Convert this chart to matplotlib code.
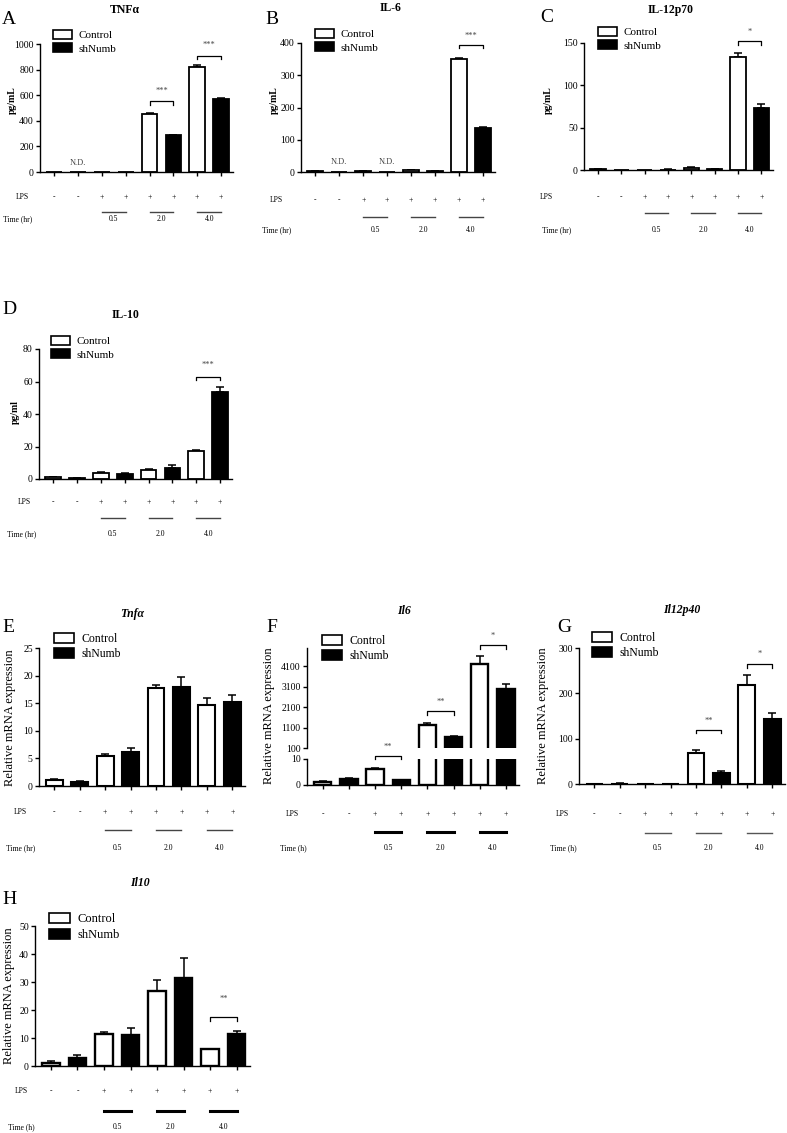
#!/usr/bin/env python3
"""
Cytokine protein (ELISA) and mRNA panels, Control vs shNumb,
drawn as GraphPad-style bar charts with LPS / time rows underneath
"""
import matplotlib.pyplot as plt
from matplotlib import transforms
from matplotlib.patches import Rectangle

# Data
lps = ["-", "-", "+", "+", "+", "+", "+", "+"]
time_points = ["0.5", "2.0", "4.0"]
groups = ["Control", "shNumb"]

tnf_protein = [0, 0, 0, 0, 453, 286, 818, 570]
tnf_protein_err = [0, 0, 0, 0, 5, 4, 20, 8]
il6_protein = [2, 0, 2, 0, 5, 2, 351, 137]
il6_protein_err = [0.5, 0, 0.5, 0, 1, 0.5, 3, 4]
il12_protein = [1, 0, 0, 0.5, 2.5, 1, 133, 73]
il12_protein_err = [0.3, 0, 0, 0.3, 0.8, 0.3, 5, 5]
il10_protein = [1.0, 0.4, 3.7, 2.9, 5.4, 6.6, 17.3, 53.6]
il10_protein_err = [0.2, 0.1, 0.6, 0.6, 0.6, 1.9, 0.4, 3.3]

tnf_mrna = [1.05, 0.75, 5.5, 6.2, 17.7, 18.0, 14.7, 15.3]
tnf_mrna_err = [0.25, 0.15, 0.3, 0.6, 0.6, 1.8, 1.2, 1.2]
il6_mrna = [1.3, 2.5, 6.0, 1.9, 1210, 620, 4230, 3006]
il6_mrna_err = [0.2, 0.3, 0.4, 0.2, 115, 50, 390, 230]
il12_mrna = [0, 0.5, 0, 0, 69, 25, 219, 144]
il12_mrna_err = [0, 1.5, 0, 0, 7, 3.5, 21, 13]
il10_mrna = [1.1, 3.0, 11.6, 11.0, 26.7, 31.6, 6.2, 11.6]
il10_mrna_err = [0.6, 1.0, 0.6, 2.7, 4.0, 6.8, 0, 0.8]

# Layout (pixels)
W, H = 787, 1133
FONT = ["Liberation Serif", "DejaVu Serif"]
BAR_WIDTH = 0.66
BAR_COLORS = ["white", "black"] * 4
XLIM = (-0.6, 7.5)

plt.rcParams["font.family"] = FONT
plt.rcParams["axes.linewidth"] = 1.0
plt.rcParams["xtick.major.width"] = 1.0
plt.rcParams["ytick.major.width"] = 1.0

fig = plt.figure(figsize=(W / 100, H / 100), dpi=100)
fig.patch.set_facecolor("white")


def fx(px):
    return px / W


def fy(py):
    return 1 - py / H


def add_ax(left, top, right, bottom):
    return fig.add_axes([fx(left), fy(bottom), (right - left) / W, (bottom - top) / H])


def style_ax(ax, ylim, yticks, show_x=True):
    ax.set_xlim(*XLIM)
    ax.set_ylim(*ylim)
    ax.set_yticks(yticks)
    ax.tick_params(axis="y", labelsize=7, length=3, pad=1.5, direction="out")
    ax.spines["top"].set_visible(False)
    ax.spines["right"].set_visible(False)
    if show_x:
        ax.set_xticks(range(8))
        ax.set_xticklabels([])
        ax.tick_params(axis="x", length=3, direction="out")
    else:
        ax.spines["bottom"].set_visible(False)
        ax.set_xticks([])


def draw_bars(ax, vals, errs, lw=1.3):
    x = list(range(len(vals)))
    ax.bar(x, vals, width=BAR_WIDTH, color=BAR_COLORS, edgecolor="black",
           linewidth=lw, zorder=2)
    for xi, v, e in zip(x, vals, errs):
        if e > 0:
            ax.errorbar(xi, v, yerr=[[0], [e]], fmt="none", ecolor="black",
                        elinewidth=1.1, capsize=3, capthick=1.1, zorder=1)


def bracket(ax, i, y, tick, label, text_y):
    ax.plot([i, i, i + 1, i + 1], [y - tick, y, y, y - tick], color="black",
            lw=0.9, clip_on=False)
    ax.text(i + 0.5, text_y, label, ha="center", va="center", fontsize=6,
            color="#444444", clip_on=False)


def legend(ax, x, y, size):
    handles = [Rectangle((0, 0), 1, 1, fc="white", ec="black", lw=1.2),
               Rectangle((0, 0), 1, 1, fc="black", ec="black", lw=1.2)]
    ax.legend(handles, groups, loc="upper left", bbox_to_anchor=(fx(x), fy(y)),
              bbox_transform=fig.transFigure, frameon=False, fontsize=size,
              handlelength=1.7, handleheight=0.9, labelspacing=0.25,
              borderaxespad=0, borderpad=0, handletextpad=0.6)


def lps_rows(ax, lps_y, line_y, time_y, lps_x, time_x, time_text,
             line_lw=1.0, line_color="#444444"):
    tr = transforms.blended_transform_factory(ax.transData, fig.transFigure)
    fig.text(fx(lps_x), fy(lps_y), "LPS", ha="center", va="center", fontsize=5.5)
    for i, s in enumerate(lps):
        ax.text(i, fy(lps_y), s, transform=tr, ha="center", va="center",
                fontsize=5.5, clip_on=False)
    for k, t in enumerate(time_points):
        i = 2 + 2 * k
        ax.plot([i, i + 1], [fy(line_y)] * 2, transform=tr, color=line_color,
                lw=line_lw, clip_on=False)
        ax.text(i + 0.5, fy(time_y), t, transform=tr, ha="center", va="center",
                fontsize=5.5, clip_on=False)
    fig.text(fx(time_x), fy(time_y), time_text, ha="left", va="center", fontsize=5.5)


def headers(title, tx, ty, letter, lx, ly, italic=False):
    fig.text(fx(tx), fy(ty), title, ha="center", va="center", fontsize=8.5,
             fontweight="bold", style="italic" if italic else "normal")
    fig.text(fx(lx), fy(ly), letter, ha="left", va="center", fontsize=14)


def ylabel(text, x, y, bold=True, size=7):
    fig.text(fx(x), fy(y), text, rotation=90, ha="center", va="center",
             fontsize=size, fontweight="bold" if bold else "normal")


# A: TNFa protein
ax = add_ax(40, 44, 233, 172)
draw_bars(ax, tnf_protein, tnf_protein_err)
style_ax(ax, (0, 1000), [0, 200, 400, 600, 800, 1000])
ax.text(1, 70, "N.D.", ha="center", va="center", fontsize=6, color="#444444")
bracket(ax, 4, 552, 25, "***", 630)
bracket(ax, 6, 904, 25, "***", 995)
legend(ax, 53, 30, 8)
lps_rows(ax, 197, 212, 219, 22, 3, "Time (hr)")
headers("TNF\u03b1", 125, 10, "A", 2, 19)
ylabel("pg/mL", 12, 100)

# B: IL-6 protein
ax = add_ax(301, 43, 495, 172)
draw_bars(ax, il6_protein, il6_protein_err)
style_ax(ax, (0, 400), [0, 100, 200, 300, 400])
ax.text(1, 30, "N.D.", ha="center", va="center", fontsize=6, color="#444444")
ax.text(3, 30, "N.D.", ha="center", va="center", fontsize=6, color="#444444")
bracket(ax, 6, 395, 10, "***", 422)
legend(ax, 315, 29, 8)
lps_rows(ax, 200, 217, 230, 276, 262, "Time (hr)")
headers("IL-6", 391, 8, "B", 265, 20)
ylabel("pg/mL", 274, 100)

# C: IL-12p70 protein
ax = add_ax(584, 43, 773, 170)
draw_bars(ax, il12_protein, il12_protein_err)
style_ax(ax, (0, 150), [0, 50, 100, 150])
bracket(ax, 6, 152, 4, "*", 163)
legend(ax, 598, 27, 8)
lps_rows(ax, 197, 213, 230, 546, 542, "Time (hr)")
headers("IL-12p70", 671, 10, "C", 540, 17)
ylabel("pg/mL", 548, 100)

# D: IL-10 protein
ax = add_ax(39, 349, 232, 479)
draw_bars(ax, il10_protein, il10_protein_err)
style_ax(ax, (0, 80), [0, 20, 40, 60, 80])
bracket(ax, 6, 63, 2.2, "***", 70)
legend(ax, 51, 336, 8)
lps_rows(ax, 502, 518, 534, 24, 7, "Time (hr)")
headers("IL-10", 126, 315, "D", 2, 309)
ylabel("pg/ml", 15, 412)

# E: Tnfa mRNA
ax = add_ax(39, 648, 245, 786)
draw_bars(ax, tnf_mrna, tnf_mrna_err, lw=1.5)
style_ax(ax, (0, 25), [0, 5, 10, 15, 20, 25])
legend(ax, 54, 633, 8.5)
lps_rows(ax, 812, 830, 848, 20, 6, "Time (hr)")
headers("Tnf\u03b1", 132, 614, "E", 2, 627, italic=True)
ylabel("Relative mRNA expression", 10, 718, bold=False, size=9)

# F: Il6 mRNA (broken axis)
ax_top = add_ax(307, 648, 519, 748)
ax_bot = add_ax(307, 759, 519, 785)
draw_bars(ax_top, il6_mrna, il6_mrna_err, lw=1.7)
draw_bars(ax_bot, il6_mrna, il6_mrna_err, lw=1.7)
style_ax(ax_top, (100, 5000), [100, 1100, 2100, 3100, 4100], show_x=False)
style_ax(ax_bot, (0, 10), [0, 10])
bracket(ax_bot, 2, 11.3, 1.2, "**", 14.5)
bracket(ax_top, 4, 1930, 200, "**", 2350)
bracket(ax_top, 6, 5160, 200, "*", 5570)
legend(ax_top, 322, 635, 8.5)
lps_rows(ax_bot, 814, 832, 848, 292, 280, "Time (h)", line_lw=2.2,
         line_color="black")
headers("Il6", 404, 611, "F", 266, 627, italic=True)
ylabel("Relative mRNA expression", 269, 716, bold=False, size=9)

# G: Il12p40 mRNA
ax = add_ax(579, 648, 785, 784)
draw_bars(ax, il12_mrna, il12_mrna_err, lw=1.5)
style_ax(ax, (0, 300), [0, 100, 200, 300])
bracket(ax, 4, 120, 8, "**", 140)
bracket(ax, 6, 264, 8, "*", 288)
legend(ax, 592, 632, 8.5)
lps_rows(ax, 814, 833, 848, 562, 550, "Time (h)", line_color="#555555")
headers("Il12p40", 682, 610, "G", 557, 628, italic=True)
ylabel("Relative mRNA expression", 543, 716, bold=False, size=9)

# H: Il10 mRNA
ax = add_ax(35, 926, 250, 1066)
draw_bars(ax, il10_mrna, il10_mrna_err, lw=1.7)
style_ax(ax, (0, 50), [0, 10, 20, 30, 40, 50])
bracket(ax, 6, 17.5, 1.5, "**", 24)
legend(ax, 49, 913, 9)
lps_rows(ax, 1091, 1111, 1127, 21, 8, "Time (h)", line_lw=2.2, line_color="black")
headers("Il10", 140, 883, "H", 2, 900, italic=True)
ylabel("Relative mRNA expression", 9, 996, bold=False, size=9)

fig.savefig("out.png", dpi=100)
